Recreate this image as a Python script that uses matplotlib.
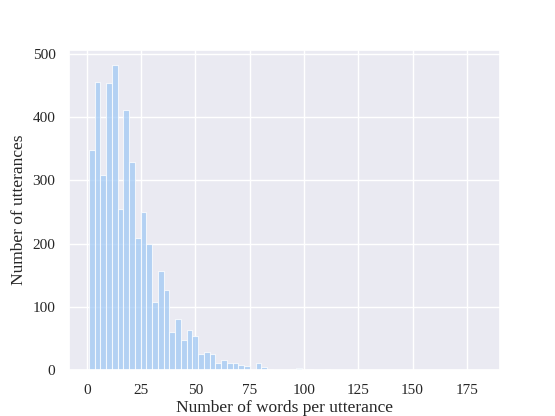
import numpy as np
import matplotlib
matplotlib.use("Agg")
import matplotlib.pyplot as plt
import seaborn as sns

# histogram counts, 68 equal bins from 1 to 181 words
counts = [348, 455, 309, 454, 482, 254, 411, 329, 209, 250,
          199, 108, 157, 126, 60, 81, 47, 63, 54, 26,
          29, 25, 12, 16, 11, 11, 9, 7, 0, 11,
          5, 2, 1, 1, 0, 2, 3, 0, 2, 0,
          0, 2, 0, 0, 1, 0, 1, 0, 0, 0,
          0, 0, 0, 0, 0, 0, 0, 0, 0, 0,
          0, 0, 0, 0, 0, 0, 0, 1]
min_words = 1
max_words = 181
xticks = [0, 25, 50, 75, 100, 125, 150, 175]
yticks = [0, 100, 200, 300, 400, 500]

sns.set_theme(style="darkgrid", palette="pastel")
plt.rcParams["font.family"] = ["Liberation Serif", "DejaVu Serif"]

edges = np.linspace(min_words, max_words, len(counts) + 1)

fig, ax = plt.subplots(figsize=(5.55, 4.16), dpi=100)
ax.hist(edges[:-1], bins=edges, weights=counts, color=sns.color_palette("pastel")[0],
        alpha=0.75, edgecolor="white", linewidth=0.8)

ax.set_xticks(xticks)
ax.set_yticks(yticks)
ax.tick_params(labelsize=11, pad=4)
ax.set_xlabel("Number of words per utterance", fontsize=12.5, labelpad=2)
ax.set_ylabel("Number of utterances", fontsize=12.5, labelpad=4)

fig.savefig("out.png", dpi=100)
